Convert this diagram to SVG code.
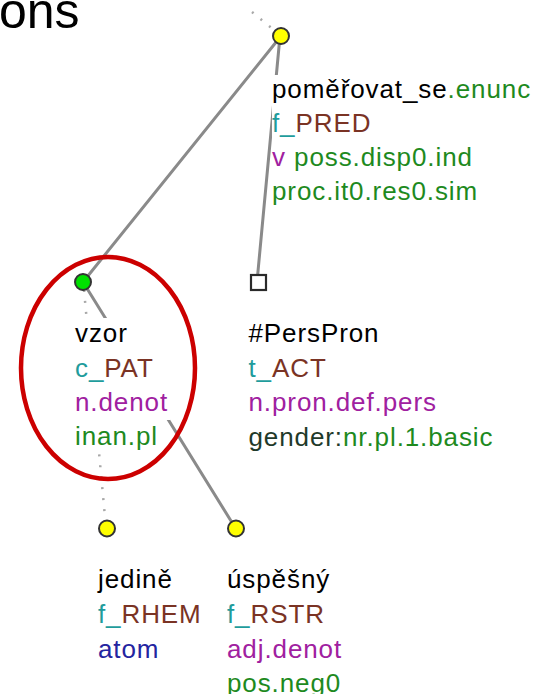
<svg xmlns="http://www.w3.org/2000/svg" width="537" height="694" viewBox="0 0 537 694">
<style>
.t{font-family:"Liberation Sans",Arial,sans-serif;font-size:26px;letter-spacing:0.9px}
.bg{fill:#ffffff}
.edge{stroke:#8a8a8a;stroke-width:3;fill:none;stroke-linecap:round}
.dot{stroke:#a8a8a8;stroke-width:2.5;fill:none;stroke-dasharray:2 9}
.yel{fill:#ffff00;stroke:#333333;stroke-width:2}
.grn{fill:#00e000;stroke:#333333;stroke-width:2}
.sq{fill:#ffffff;stroke:#2a2a2a;stroke-width:2.2}
.k{fill:#000000}
.cy{fill:#1f9c9c}
.br{fill:#7a3324}
.pu{fill:#a020a0}
.gr{fill:#1e8a1e}
.dg{fill:#1f3a2a}
.bl{fill:#2424a0}
</style>
<text x="-1" y="28" font-family="Liberation Sans, Arial, sans-serif" font-size="50" fill="#000">ons</text>
<g id="connectors">
<line class="dot" x1="252" y1="12" x2="274" y2="30"/>
<line class="edge" x1="281" y1="36" x2="83" y2="282"/>
<line class="edge" x1="280" y1="36" x2="257" y2="282"/>
<line class="dot" x1="84" y1="290" x2="106" y2="528"/>
<line class="edge" x1="83" y1="282" x2="236" y2="529"/>
</g>
<g id="node-pomerovat">
<rect class="bg" x="272" y="75" width="259" height="33"/>
<rect class="bg" x="272" y="108" width="101" height="34"/>
<rect class="bg" x="272" y="142" width="201" height="34"/>
<rect class="bg" x="272" y="176" width="202" height="33"/>
<circle class="yel" cx="281" cy="36" r="8"/>
<text class="t" x="272" y="98"><tspan class="k">poměřovat_se</tspan><tspan class="gr">.enunc</tspan></text>
<text class="t" x="272" y="132"><tspan class="cy">f_</tspan><tspan class="br">PRED</tspan></text>
<text class="t" x="272" y="166"><tspan class="pu">v</tspan><tspan class="gr"> poss.disp0.ind</tspan></text>
<text class="t gr" x="272" y="200">proc.it0.res0.sim</text>
</g>
<g id="node-vzor">
<rect class="bg" x="74" y="318" width="56" height="34"/>
<rect class="bg" x="74" y="352" width="86" height="34"/>
<rect class="bg" x="74" y="386" width="96" height="34"/>
<rect class="bg" x="74" y="420" width="88" height="34"/>
<circle class="grn" cx="83" cy="282" r="8"/>
<text class="t k" x="75" y="342">vzor</text>
<text class="t" x="75" y="377"><tspan class="cy">c_</tspan><tspan class="br">PAT</tspan></text>
<text class="t pu" x="75" y="411">n.denot</text>
<text class="t gr" x="75" y="445">inan.pl</text>
</g>
<g id="node-perspron">
<rect class="sq" x="251" y="275" width="15" height="15"/>
<text class="t k" x="248.5" y="342">#PersPron</text>
<text class="t" x="248.5" y="377"><tspan class="cy">t_</tspan><tspan class="br">ACT</tspan></text>
<text class="t pu" x="248.5" y="411">n.pron.def.pers</text>
<text class="t" x="248.5" y="446"><tspan class="dg">gender:</tspan><tspan class="gr">nr.pl.1.basic</tspan></text>
</g>
<g id="node-jedine">
<circle class="yel" cx="107" cy="528.5" r="8"/>
<text class="t k" x="98" y="588">jedině</text>
<text class="t" x="98" y="623"><tspan class="cy">f_</tspan><tspan class="br">RHEM</tspan></text>
<text class="t bl" x="98" y="658">atom</text>
</g>
<g id="node-uspesny">
<circle class="yel" cx="236" cy="528.5" r="8"/>
<text class="t k" x="227" y="588">úspěšný</text>
<text class="t" x="227" y="623"><tspan class="cy">f_</tspan><tspan class="br">RSTR</tspan></text>
<text class="t pu" x="227" y="658">adj.denot</text>
<text class="t gr" x="227" y="692">pos.neg0</text>
</g>
<g id="highlight">
<ellipse cx="108" cy="368" rx="87" ry="111" fill="none" stroke="#cc0000" stroke-width="4.5"/>
</g>
</svg>
